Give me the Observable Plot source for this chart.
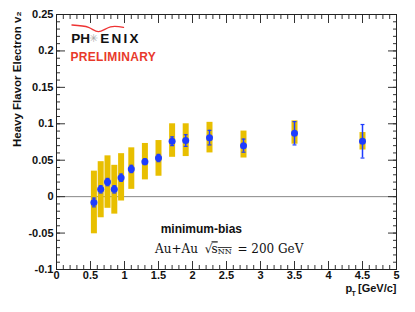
<!DOCTYPE html>
<html><head><meta charset="utf-8">
<script src="https://cdn.jsdelivr.net/npm/d3@7"></script>
<script src="https://cdn.jsdelivr.net/npm/@observablehq/plot@0.6"></script>
<style>
body{margin:0;background:#fff}
</style>
</head><body><div id="chart"></div>
<script>
// pT bin centres [GeV/c]
const pt    = [0.55, 0.65, 0.75, 0.85, 0.95, 1.1, 1.3, 1.5, 1.7, 1.9, 2.25, 2.75, 3.5, 4.5];
// heavy flavour electron v2
const v2    = [-0.008, 0.010, 0.020, 0.010, 0.026, 0.038, 0.048, 0.053, 0.076, 0.077, 0.081, 0.070, 0.087, 0.076];
// statistical errors
const stat  = [0.006, 0.005, 0.005, 0.005, 0.005, 0.005, 0.004, 0.005, 0.006, 0.008, 0.010, 0.009, 0.016, 0.023];
// systematic band edges
const sysLo = [-0.051, -0.029, -0.016, -0.024, -0.006, 0.010, 0.023, 0.028, 0.054, 0.055, 0.060, 0.053, 0.072, 0.064];
const sysHi = [0.035, 0.048, 0.056, 0.043, 0.059, 0.067, 0.073, 0.077, 0.100, 0.100, 0.102, 0.090, 0.104, 0.088];

const xTicks = [0, 0.5, 1, 1.5, 2, 2.5, 3, 3.5, 4, 4.5, 5];
const xTickLabels = ["0", "0.5", "1", "1.5", "2", "2.5", "3", "3.5", "4", "4.5", "5"];
const yTicks = [-0.1, -0.05, 0, 0.05, 0.1, 0.15, 0.2, 0.25];
const yTickLabels = ["-0.1", "-0.05", "0", "0.05", "0.1", "0.15", "0.2", "0.25"];

// logo swoosh (data coordinates)
const arcX = [0.228, 0.471, 0.618, 0.794, 0.985];
const arcY = [0.2355, 0.2323, 0.2265, 0.2330, 0.2323];

const rows = pt.map((x, i) => ({x, y: v2[i], lo: v2[i] - stat[i], hi: v2[i] + stat[i], sLo: sysLo[i], sHi: sysHi[i]}));
const arc = arcX.map((x, i) => ({x, y: arcY[i]}));
const xMinor = d3.range(0, 51).map(i => i / 10);
const yMinor = d3.range(-10, 26).map(i => i / 100);
const xLab = new Map(xTicks.map((t, i) => [t, xTickLabels[i]]));
const yLab = new Map(yTicks.map((t, i) => [t, yTickLabels[i]]));

const BLUE = "#1e3cff", GOLD = "#e8bf00", AX = "#333";
const cap = {draw(ctx, size) { const r = Math.sqrt(size) / 2; ctx.moveTo(-r, 0); ctx.lineTo(r, 0); }};
const none = () => "";
const SERIF = "'DejaVu Serif', serif";

const plot = Plot.plot({
  width: 415, height: 312,
  marginLeft: 56, marginRight: 19, marginTop: 14, marginBottom: 43,
  x: {domain: [0, 5]},
  y: {domain: [-0.1, 0.25]},
  style: {fontFamily: "'Liberation Sans', Arial, sans-serif", fontWeight: "bold", fontSize: "11px", background: "#fff", color: "#111"},
  marks: [
    Plot.ruleY([0], {stroke: "#888", strokeWidth: 1}),
    Plot.ruleX(rows, {x: "x", y1: "sLo", y2: "sHi", stroke: GOLD, strokeWidth: 6}),
    Plot.ruleX(rows, {x: "x", y1: "lo", y2: "hi", stroke: BLUE, strokeWidth: 1.5}),
    Plot.dot(rows, {x: "x", y: "lo", symbol: cap, r: 2.2, stroke: BLUE, strokeWidth: 1.2, fill: "none"}),
    Plot.dot(rows, {x: "x", y: "hi", symbol: cap, r: 2.2, stroke: BLUE, strokeWidth: 1.2, fill: "none"}),
    Plot.dot(rows, {x: "x", y: "y", r: 3.5, fill: BLUE}),
    // minor & major ticks, all four sides (inward)
    Plot.axisX({anchor: "bottom", ticks: xMinor, tickSize: -4, tickFormat: none, label: null, stroke: AX}),
    Plot.axisX({anchor: "top", ticks: xMinor, tickSize: -4, tickFormat: none, label: null, stroke: AX}),
    Plot.axisX({anchor: "bottom", ticks: xTicks, tickSize: -8, tickFormat: none, label: null, stroke: AX}),
    Plot.axisX({anchor: "top", ticks: xTicks, tickSize: -8, tickFormat: none, label: null, stroke: AX}),
    Plot.axisY({anchor: "left", ticks: yMinor, tickSize: -4, tickFormat: none, label: null, stroke: AX}),
    Plot.axisY({anchor: "right", ticks: yMinor, tickSize: -4, tickFormat: none, label: null, stroke: AX}),
    Plot.axisY({anchor: "left", ticks: yTicks, tickSize: -9, tickFormat: none, label: null, stroke: AX}),
    Plot.axisY({anchor: "right", ticks: yTicks, tickSize: -9, tickFormat: none, label: null, stroke: AX}),
    // tick labels
    Plot.axisX({anchor: "bottom", ticks: xTicks, tickSize: 0, tickPadding: 2, tickFormat: d => xLab.get(d), label: null, fontWeight: "bold", fontSize: 11, fill: "#111"}),
    Plot.axisY({anchor: "left", ticks: yTicks, tickSize: 0, tickPadding: 3, tickFormat: d => yLab.get(d), label: null, fontWeight: "bold", fontSize: 11, fill: "#111"}),
    Plot.frame({stroke: "#222"}),
    // axis titles
    Plot.text(["Heavy Flavor Electron v₂"], {frameAnchor: "top-left", rotate: -90, textAnchor: "end", dx: -44, dy: -3, fontSize: 11.5, fontWeight: "bold"}),
    Plot.text(["p"], {frameAnchor: "bottom-right", textAnchor: "start", dx: -51, dy: 22, fontSize: 11, fontWeight: "bold"}),
    Plot.text(["T"], {frameAnchor: "bottom-right", textAnchor: "start", dx: -45, dy: 26, fontSize: 7, fontWeight: "bold"}),
    Plot.text(["[GeV/c]"], {frameAnchor: "bottom-right", textAnchor: "end", dy: 22, fontSize: 11, fontWeight: "bold"}),
    // annotations
    Plot.text(["minimum-bias"], {x: 2.13, y: -0.044, fontSize: 12, fontWeight: "bold"}),
    Plot.text(["Au+Au"], {x: 1.45, y: -0.0725, textAnchor: "start", fontFamily: SERIF, fontWeight: "normal", fontSize: 12}),
    Plot.text(["√"], {x: 2.18, y: -0.0725, textAnchor: "start", fontFamily: SERIF, fontWeight: "normal", fontSize: 12}),
    Plot.text(["s"], {x: 2.28, y: -0.0725, textAnchor: "start", fontFamily: SERIF, fontWeight: "normal", fontSize: 12}),
    Plot.text(["NN"], {x: 2.37, y: -0.0725, dy: 2, textAnchor: "start", fontFamily: SERIF, fontWeight: "normal", fontSize: 8}),
    Plot.text(["= 200 GeV"], {x: 2.66, y: -0.0725, textAnchor: "start", fontFamily: SERIF, fontWeight: "normal", fontSize: 12}),
    // PHENIX logo
    Plot.line(arc, {x: "x", y: "y", curve: "natural", stroke: "#e33", strokeWidth: 1.4}),
    Plot.text(["PH"], {x: 0.216, y: 0.2169, textAnchor: "start", fontSize: 13.5, fontWeight: "bold", fill: "#111"}),
    Plot.text(["✳"], {x: 0.55, y: 0.2169, fontSize: 11, fill: "#aaa", fontWeight: "normal"}),
    Plot.text(["ENIX"], {x: 0.645, y: 0.2169, textAnchor: "start", fontSize: 13.5, fontWeight: "bold", fill: "#111"}),
    Plot.text(["PRELIMINARY"], {x: 0.206, y: 0.1921, textAnchor: "start", fontSize: 12, fontWeight: "bold", fill: "#e8392b"})
  ]
});
const sel = d3.select(plot);
sel.selectAll("text").each(function() {
  const t = this.textContent;
  if (t === "ENIX") d3.select(this).style("letter-spacing", "2.2px");
  if (t === "PRELIMINARY") d3.select(this).style("letter-spacing", "0.3px");
  if (t === "s" || t === "NN") d3.select(this).style("text-decoration", "overline");
});
document.getElementById("chart").appendChild(plot);
</script>
</body></html>
